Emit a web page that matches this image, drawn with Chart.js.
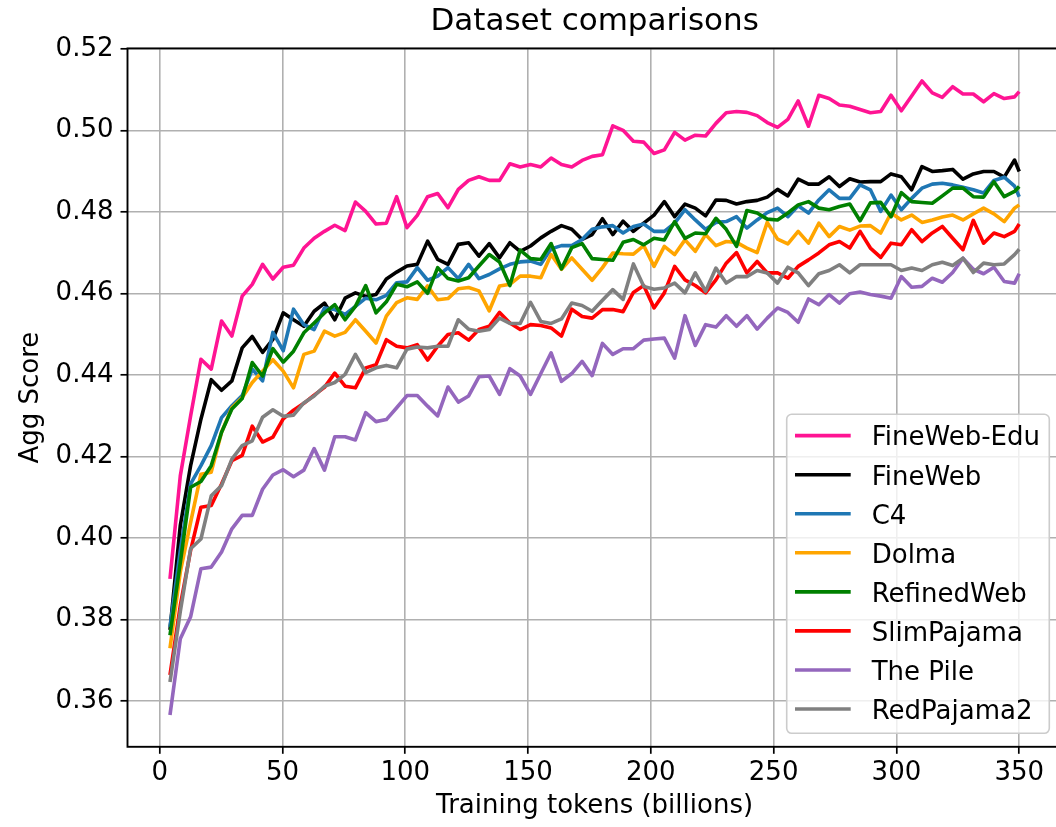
<!DOCTYPE html>
<html>
<head>
<meta charset="utf-8">
<script src="https://cdn.jsdelivr.net/npm/chart.js@4.4.0/dist/chart.umd.min.js"></script>
<style>
html,body{margin:0;padding:0;background:#fff;overflow:hidden;width:1056px;height:827px}
#wrap{position:relative;width:1066px;height:827px}
</style>
</head>
<body>
<div id="wrap"><canvas id="c" width="1066" height="827"></canvas></div>
<script>
// Training tokens (billions)
const tokens = [4.2, 8.4, 12.6, 16.8, 21.0, 25.2, 29.4, 33.6, 37.7, 41.9,
  46.1, 50.3, 54.5, 58.7, 62.9, 67.1, 71.3, 75.5, 79.7, 83.9,
  88.1, 92.3, 96.5, 100.7, 104.9, 109.1, 113.2, 117.4, 121.6, 125.8,
  130.0, 134.2, 138.4, 142.6, 146.8, 151.0, 155.2, 159.4, 163.6, 167.8,
  172.0, 176.1, 180.3, 184.5, 188.7, 192.9, 197.1, 201.3, 205.5, 209.7,
  213.9, 218.1, 222.3, 226.5, 230.7, 234.9, 239.1, 243.3, 247.4, 251.6,
  255.8, 260.0, 264.2, 268.4, 272.6, 276.8, 281.0, 285.2, 289.4, 293.6,
  297.8, 302.0, 306.2, 310.4, 314.6, 318.7, 322.9, 327.1, 331.3, 335.5,
  339.7, 343.9, 348.1, 350.0];

const fineWebEdu = [0.390, 0.4153, 0.430, 0.4439, 0.4415, 0.4533, 0.4496, 0.4594, 0.4623, 0.4672,
  0.4636, 0.4665, 0.4670, 0.4712, 0.4736, 0.4753, 0.4768, 0.4755, 0.4825, 0.4802,
  0.4771, 0.4773, 0.4838, 0.4762, 0.4792, 0.4838, 0.4846, 0.4811, 0.4856, 0.4878,
  0.4887, 0.4878, 0.4878, 0.4919, 0.4911, 0.4917, 0.4911, 0.4933, 0.4917, 0.4911,
  0.4927, 0.4937, 0.4941, 0.5012, 0.5001, 0.4974, 0.4972, 0.4944, 0.4953, 0.4996,
  0.4977, 0.4989, 0.4987, 0.5018, 0.5044, 0.5047, 0.5045, 0.5037, 0.5020, 0.5008,
  0.5028, 0.5073, 0.5011, 0.5087, 0.5079, 0.5063, 0.5060, 0.5052, 0.5044, 0.5047,
  0.5087, 0.5049, 0.5085, 0.5122, 0.5093, 0.5082, 0.5108, 0.5090, 0.5090, 0.5071,
  0.5091, 0.5079, 0.5083, 0.5096];

const fineWeb = [0.3775, 0.4031, 0.4178, 0.4292, 0.4389, 0.4363, 0.4386, 0.4467, 0.4495, 0.4456,
  0.4488, 0.4553, 0.4536, 0.4520, 0.4557, 0.4577, 0.4536, 0.4589, 0.4602, 0.4593,
  0.4598, 0.4636, 0.4653, 0.4668, 0.4672, 0.4729, 0.4684, 0.4672, 0.4721, 0.4725,
  0.4692, 0.4723, 0.4688, 0.4725, 0.4704, 0.4717, 0.4737, 0.4753, 0.4767, 0.4758,
  0.4733, 0.4745, 0.4784, 0.4745, 0.4778, 0.4753, 0.4773, 0.4793, 0.4826, 0.4789,
  0.4820, 0.4810, 0.4791, 0.4830, 0.4829, 0.4820, 0.4826, 0.4829, 0.4837, 0.4856,
  0.4840, 0.4881, 0.4869, 0.4869, 0.4887, 0.4863, 0.4882, 0.4874, 0.4875, 0.4875,
  0.4894, 0.4887, 0.4855, 0.4912, 0.4900, 0.4902, 0.4905, 0.4881, 0.4894, 0.4900,
  0.4900, 0.4886, 0.4928, 0.4900];

const c4 = [0.3782, 0.3970, 0.4133, 0.4178, 0.4227, 0.4296, 0.4325, 0.4350, 0.4415, 0.4386,
  0.4505, 0.4460, 0.4562, 0.4524, 0.4512, 0.4565, 0.4561, 0.4549, 0.4569, 0.4589,
  0.4585, 0.4596, 0.4627, 0.4629, 0.4664, 0.4633, 0.4643, 0.4664, 0.4637, 0.4672,
  0.4637, 0.4647, 0.4661, 0.4672, 0.4678, 0.4680, 0.4672, 0.4710, 0.4718, 0.4718,
  0.4733, 0.4758, 0.4764, 0.4767, 0.4749, 0.4765, 0.4771, 0.4753, 0.4753, 0.4773,
  0.4806, 0.4781, 0.4758, 0.4775, 0.4777, 0.4789, 0.4761, 0.4781, 0.4799, 0.4810,
  0.4789, 0.4816, 0.4798, 0.4830, 0.4855, 0.4834, 0.4834, 0.4867, 0.4855, 0.4802,
  0.4842, 0.4806, 0.4834, 0.4859, 0.4869, 0.4871, 0.4867, 0.4861, 0.4855, 0.4847,
  0.4878, 0.4886, 0.4864, 0.4838];

const dolma = [0.3730, 0.3917, 0.4039, 0.4157, 0.4162, 0.4260, 0.4320, 0.4345, 0.4382, 0.4410,
  0.4438, 0.4410, 0.4369, 0.4451, 0.4459, 0.4508, 0.4496, 0.4505, 0.4536, 0.4508,
  0.4479, 0.4545, 0.4578, 0.4590, 0.4586, 0.4619, 0.4585, 0.4588, 0.4612, 0.4615,
  0.4607, 0.4558, 0.4619, 0.4623, 0.4643, 0.4643, 0.4639, 0.4696, 0.4660, 0.4688,
  0.4660, 0.4633, 0.4664, 0.4700, 0.4698, 0.4697, 0.4718, 0.4667, 0.4716, 0.4696,
  0.4732, 0.4704, 0.4745, 0.4718, 0.4728, 0.4726, 0.4712, 0.4701, 0.4775, 0.4734,
  0.4722, 0.4753, 0.4724, 0.4773, 0.4740, 0.4765, 0.4756, 0.4766, 0.4767, 0.4749,
  0.4798, 0.4781, 0.4793, 0.4775, 0.4781, 0.4788, 0.4793, 0.4781, 0.4796, 0.4810,
  0.4796, 0.4777, 0.4810, 0.4818];

const refinedWeb = [0.3762, 0.3940, 0.4125, 0.4139, 0.4178, 0.4260, 0.4317, 0.4343, 0.4431, 0.4398,
  0.4465, 0.4432, 0.4459, 0.4504, 0.4528, 0.4553, 0.4573, 0.4536, 0.4569, 0.4620,
  0.4553, 0.4580, 0.4623, 0.4617, 0.4629, 0.4601, 0.4664, 0.4637, 0.4631, 0.4639,
  0.4668, 0.4696, 0.4678, 0.4620, 0.4707, 0.4686, 0.4684, 0.4723, 0.4661, 0.4713,
  0.4723, 0.4686, 0.4684, 0.4682, 0.4726, 0.4733, 0.4720, 0.4736, 0.4732, 0.4777,
  0.4736, 0.4749, 0.4747, 0.4785, 0.4758, 0.4716, 0.4804, 0.4798, 0.4783, 0.4781,
  0.4798, 0.4818, 0.4826, 0.4810, 0.4806, 0.4814, 0.4820, 0.4779, 0.4823, 0.4824,
  0.4789, 0.4848, 0.4826, 0.4824, 0.4822, 0.4840, 0.4859, 0.4859, 0.4838, 0.4837,
  0.4875, 0.4838, 0.4851, 0.4863];

const slimPajama = [0.3664, 0.3835, 0.3970, 0.4076, 0.4080, 0.4133, 0.4190, 0.4203, 0.4275, 0.4236,
  0.4248, 0.4293, 0.4314, 0.4331, 0.4351, 0.4370, 0.4405, 0.4373, 0.4369, 0.4418,
  0.4426, 0.4487, 0.4471, 0.4467, 0.4475, 0.4437, 0.4471, 0.4500, 0.4504, 0.4486,
  0.4512, 0.4520, 0.4554, 0.4528, 0.4512, 0.4524, 0.4522, 0.4516, 0.4496, 0.4562,
  0.4544, 0.4540, 0.4561, 0.4561, 0.4556, 0.4603, 0.4620, 0.4565, 0.4602, 0.4667,
  0.4634, 0.4620, 0.4602, 0.4634, 0.4675, 0.4701, 0.4651, 0.4679, 0.4651, 0.4651,
  0.4638, 0.4667, 0.4683, 0.4700, 0.4720, 0.4728, 0.4712, 0.4753, 0.4712, 0.4689,
  0.4724, 0.4720, 0.4757, 0.4728, 0.4749, 0.4765, 0.4736, 0.4708, 0.4780, 0.4724,
  0.4749, 0.4740, 0.4753, 0.4771];

const thePile = [0.3566, 0.3753, 0.3807, 0.3925, 0.3929, 0.3966, 0.4023, 0.4056, 0.4056, 0.4120,
  0.4155, 0.4168, 0.4151, 0.4167, 0.4220, 0.4167, 0.4249, 0.4249, 0.4241, 0.4308,
  0.4286, 0.4291, 0.4320, 0.4350, 0.4350, 0.4324, 0.4300, 0.4371, 0.4334, 0.4349,
  0.4396, 0.4398, 0.4353, 0.4416, 0.4398, 0.4353, 0.4404, 0.4455, 0.4385, 0.4404,
  0.4434, 0.4399, 0.4478, 0.4451, 0.4465, 0.4465, 0.4486, 0.4489, 0.4491, 0.4442,
  0.4546, 0.4473, 0.4524, 0.4518, 0.4546, 0.4520, 0.4546, 0.4513, 0.4540, 0.4565,
  0.4554, 0.4530, 0.4587, 0.4573, 0.4598, 0.4577, 0.4600, 0.4604, 0.4598, 0.4594,
  0.4589, 0.4642, 0.4616, 0.4618, 0.4638, 0.4628, 0.4652, 0.4687, 0.4660, 0.4649,
  0.4665, 0.4630, 0.4626, 0.4649];

const redPajama2 = [0.3647, 0.3820, 0.3974, 0.3998, 0.4104, 0.4129, 0.4194, 0.4227, 0.4239, 0.4297,
  0.4315, 0.4299, 0.4302, 0.4332, 0.4349, 0.4373, 0.4382, 0.4402, 0.4451, 0.4406,
  0.4418, 0.4424, 0.4418, 0.4464, 0.4469, 0.4467, 0.4471, 0.4471, 0.4536, 0.4513,
  0.4508, 0.4512, 0.4540, 0.4527, 0.4527, 0.4579, 0.4532, 0.4527, 0.4538, 0.4577,
  0.4571, 0.4557, 0.4584, 0.4610, 0.4586, 0.4673, 0.4618, 0.4611, 0.4614, 0.4626,
  0.4602, 0.4651, 0.4606, 0.4663, 0.4626, 0.4642, 0.4642, 0.4657, 0.4651, 0.4626,
  0.4665, 0.4651, 0.4620, 0.4649, 0.4657, 0.4671, 0.4651, 0.4671, 0.4671, 0.4671,
  0.4671, 0.4657, 0.4663, 0.4657, 0.4671, 0.4677, 0.4669, 0.4687, 0.4652, 0.4675,
  0.4671, 0.4673, 0.4696, 0.4709];

const seriesNames = ['FineWeb-Edu', 'FineWeb', 'C4', 'Dolma', 'RefinedWeb', 'SlimPajama', 'The Pile', 'RedPajama2'];
const seriesValues = [fineWebEdu, fineWeb, c4, dolma, refinedWeb, slimPajama, thePile, redPajama2];
const seriesColors = ['#ff1493', '#000000', '#1f77b4', '#ffa500', '#008000', '#ff0000', '#9467bd', '#808080'];
const xTickValues = [0, 50, 100, 150, 200, 250, 300, 350];
const yTickValues = [0.36, 0.38, 0.40, 0.42, 0.44, 0.46, 0.48, 0.50, 0.52];

const FONT = 'DejaVu Sans';
const FS = 26;
const LW = 3.6;
const n = seriesNames.length;

const datasets = seriesNames.map((name, k) => ({
  label: name,
  data: tokens.map((x, i) => ({x: x, y: seriesValues[k][i]})),
  borderColor: seriesColors[k],
  backgroundColor: seriesColors[k],
  borderWidth: LW,
  pointRadius: 0,
  tension: 0,
  fill: false,
  borderJoinStyle: 'round',
  borderCapStyle: 'butt',
  order: n - 1 - k
}));

const spinesPlugin = {
  id: 'spines',
  afterDatasetsDraw(chart) {
    const {ctx, chartArea: ca} = chart;
    ctx.save();
    ctx.strokeStyle = '#000';
    ctx.lineWidth = 1.9;
    ctx.strokeRect(ca.left, ca.top, ca.right - ca.left, ca.bottom - ca.top);
    ctx.restore();
  }
};

const legendPlugin = {
  id: 'mplLegend',
  afterDraw(chart) {
    const {ctx, chartArea: ca} = chart;
    const w = 262.6, rowH = 39.05, padTop = 21.4, padBot = 24.3;
    const h = padTop + rowH * (n - 1) + padBot;
    const right = ca.right - 12.4, bottom = ca.bottom - 13.5;
    const left = right - w, top = bottom - h;
    const r = 5;
    ctx.save();
    ctx.beginPath();
    ctx.moveTo(left + r, top);
    ctx.lineTo(right - r, top);
    ctx.arcTo(right, top, right, top + r, r);
    ctx.lineTo(right, bottom - r);
    ctx.arcTo(right, bottom, right - r, bottom, r);
    ctx.lineTo(left + r, bottom);
    ctx.arcTo(left, bottom, left, bottom - r, r);
    ctx.lineTo(left, top + r);
    ctx.arcTo(left, top, left + r, top, r);
    ctx.closePath();
    ctx.fillStyle = 'rgba(255,255,255,0.8)';
    ctx.fill();
    ctx.strokeStyle = '#cccccc';
    ctx.lineWidth = 1.6;
    ctx.stroke();
    ctx.font = FS + 'px "' + FONT + '"';
    ctx.textBaseline = 'alphabetic';
    ctx.textAlign = 'left';
    chart.data.datasets.forEach((ds, k) => {
      const y = top + padTop + k * rowH;
      ctx.strokeStyle = ds.borderColor;
      ctx.lineWidth = LW;
      ctx.beginPath();
      ctx.moveTo(left + 8.3, y);
      ctx.lineTo(left + 64, y);
      ctx.stroke();
      ctx.fillStyle = '#000';
      ctx.fillText(ds.label, left + 85, y + 9.8);
    });
    ctx.restore();
  }
};

const gridOpts = {
  color: '#b0b0b0',
  lineWidth: 1.6,
  drawTicks: true,
  tickLength: 7,
  tickColor: '#000',
  tickWidth: 1.7
};

new Chart(document.getElementById('c'), {
  type: 'line',
  data: {datasets: datasets},
  plugins: [spinesPlugin, legendPlugin],
  options: {
    responsive: false,
    devicePixelRatio: 1,
    animation: false,
    layout: {padding: {left: 0, right: 4.3, top: 0, bottom: 0}},
    plugins: {
      legend: {display: false},
      tooltip: {enabled: false},
      title: {
        display: true,
        text: 'Dataset comparisons',
        color: '#000',
        fullSize: false,
        font: {family: FONT, size: 31, weight: 'normal'},
        padding: {top: 3.4, bottom: 7.8}
      }
    },
    scales: {
      x: {
        type: 'linear',
        min: -13.1,
        max: 367.3,
        afterBuildTicks: s => { s.ticks = xTickValues.map(v => ({value: v})); },
        afterFit: s => { s.height = 80.2; },
        grid: gridOpts,
        border: {display: false},
        ticks: {
          color: '#000',
          font: {family: FONT, size: FS},
          padding: 3.6,
          maxRotation: 0,
          autoSkip: false,
          callback: v => String(v)
        },
        title: {
          display: true,
          text: 'Training tokens (billions)',
          color: '#000',
          font: {family: FONT, size: FS},
          padding: {top: 0, bottom: 5.4}
        }
      },
      y: {
        type: 'linear',
        min: 0.3488,
        max: 0.5202,
        afterBuildTicks: s => { s.ticks = yTickValues.map(v => ({value: v})); },
        afterFit: s => { s.width = 127.5; },
        grid: gridOpts,
        border: {display: false},
        ticks: {
          color: '#000',
          font: {family: FONT, size: FS},
          padding: 7,
          autoSkip: false,
          callback: v => v.toFixed(2)
        },
        title: {
          display: true,
          text: 'Agg Score',
          color: '#000',
          font: {family: FONT, size: FS},
          padding: {top: 15.4, bottom: 0}
        }
      }
    }
  }
});
</script>
</body>
</html>
